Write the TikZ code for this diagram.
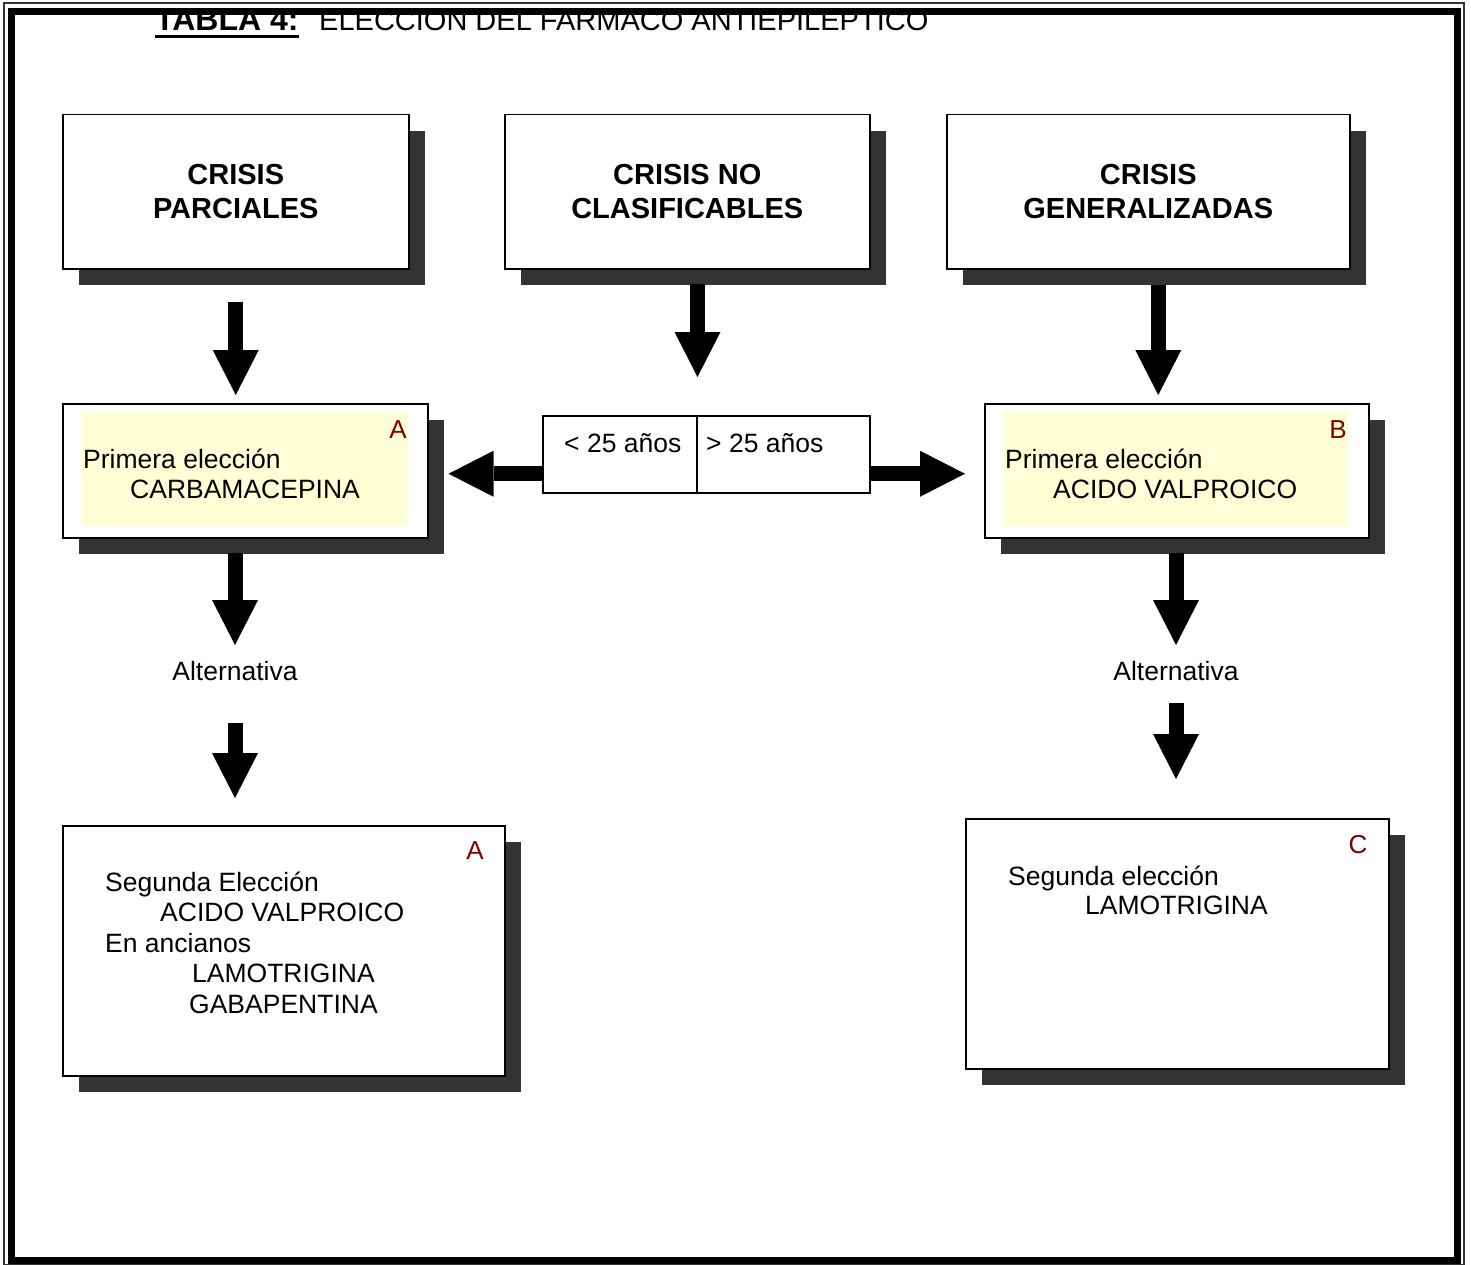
\documentclass[tikz,border=0pt]{standalone}
\usepackage{fontspec}
\setmainfont{Liberation Sans}
\usepackage{tikz}
\usetikzlibrary{shadows}
\usetikzlibrary{arrows.meta}
\definecolor{sombra}{RGB}{51,51,51}
\definecolor{amarillo}{RGB}{255,255,214}
\definecolor{rojo}{RGB}{128,0,0}

\begin{document}
\begin{tikzpicture}[x=1pt, y=-1pt,
 caja/.style={draw, line width=1.5pt, fill=white, inner sep=0pt, anchor=north west,
   drop shadow={shadow xshift=16pt, shadow yshift=-16pt, fill=sombra, opacity=1}},
 edad/.style={draw, line width=1.5pt, fill=white, inner sep=0pt, anchor=north west},
 fondo/.style={fill=amarillo, inner sep=0pt, anchor=north west},
 titulo/.style={font=\fontsize{29}{34}\selectfont\bfseries, align=center},
 texto/.style={font=\fontsize{26.5}{30.5}\selectfont, inner sep=0pt, anchor=base west},
 letra/.style={font=\fontsize{26}{30}\selectfont, text=rojo, inner sep=0pt, anchor=base},
 flecha/.style={line width=15pt, -{Triangle[length=45pt, width=46pt, line width=0pt]}}]

\useasboundingbox (0,0) rectangle (1471,1265);

% titulo (el marco lo tapa por arriba)
\node[font=\fontsize{32}{36}\selectfont\bfseries, inner sep=0pt, anchor=base west] (tabla) at (155,31) {TABLA 4:};
\node[font=\fontsize{29}{34}\selectfont, inner sep=0pt, anchor=base west] (nombre) at (319,31) {ELECCION DEL FARMACO ANTIEPILEPTICO};
\draw[line width=3pt] ([yshift=-6pt]tabla.base west) -- ([yshift=-6pt]tabla.base east);

% marco
\draw[line width=1.5pt, black!80] (4,3) rectangle (1464,1264.5);
\draw[line width=7pt] (11.5,12) rectangle (1457.5,1260);

% tipos de crisis
\node[caja, titulo, minimum width=346pt, minimum height=154pt] (parc) at (62,114) {CRISIS\\PARCIALES};
\node[caja, titulo, minimum width=365pt, minimum height=154pt] (noclas) at (504,114) {CRISIS NO\\CLASIFICABLES};
\node[caja, titulo, minimum width=403pt, minimum height=154pt] (gen) at (946,114) {CRISIS\\GENERALIZADAS};

% primera eleccion
\node[caja, minimum width=365pt, minimum height=134pt] (prim1) at (62,403) {};
\node[fondo, minimum width=325pt, minimum height=114pt] (ama1) at (82,412) {};
\node[texto] (pe1) at (83,468) {Primera elección};
\node[texto] (carb) at (130,498) {CARBAMACEPINA};
\node[letra] (la1) at (398,438) {A};

\node[caja, minimum width=384pt, minimum height=134pt] (prim2) at (984,403) {};
\node[fondo, minimum width=344pt, minimum height=114pt] (ama2) at (1004,412) {};
\node[texto] (pe2) at (1005,468) {Primera elección};
\node[texto] (valp) at (1053,498) {ACIDO VALPROICO};
\node[letra] (lb) at (1338,438) {B};

% edad
\node[edad, minimum width=154pt, minimum height=77pt] (agemen) at (542,415) {};
\node[edad, minimum width=173pt, minimum height=77pt] (agemay) at (696,415) {};
\node[texto] (tmen) at (564,452) {< 25 años};
\node[texto] (tmay) at (706,452) {> 25 años};

\node[texto, anchor=base] (alt1) at (235,680) {Alternativa};
\node[texto, anchor=base] (alt2) at (1176,680) {Alternativa};

% segunda eleccion
\node[caja, minimum width=442pt, minimum height=250pt] (seg1) at (62,825) {};
\node[texto] (se1) at (105,891) {Segunda Elección};
\node[texto] (valp2) at (160,921) {ACIDO VALPROICO};
\node[texto] (anc) at (105,952) {En ancianos};
\node[texto] (lamo1) at (192,982) {LAMOTRIGINA};
\node[texto] (gaba) at (189,1013) {GABAPENTINA};
\node[letra] (la2) at (475,859) {A};

\node[caja, minimum width=423pt, minimum height=250pt] (seg2) at (965,818) {};
\node[texto] (se2) at (1008,885) {Segunda elección};
\node[texto] (lamo2) at (1085,914) {LAMOTRIGINA};
\node[letra] (lc) at (1358,853) {C};

% flechas
\draw[flecha, shorten <=32pt, shorten >=8pt] (parc.south) -- (parc.south |- prim1.north);
\draw[flecha, shorten <=14pt, shorten >=38pt] (noclas.south -| agemen.north east) -- (agemen.north east);
\draw[flecha, shorten <=15pt, shorten >=8pt] ([xshift=10pt]gen.south) -- ([xshift=10pt]gen.south |- prim2.north);

\draw[flecha, shorten >=20pt] ([yshift=-19.5pt]agemen.west) -- ([yshift=-19.5pt]agemen.west -| prim1.east);
\draw[flecha, shorten >=19pt] ([yshift=-19.5pt]agemay.east) -- ([yshift=-19.5pt]agemay.east -| prim2.west);

\draw[flecha, shorten <=14pt, shorten >=35pt] (alt1 |- prim1.south) -- (alt1.base);
\draw[flecha, shorten <=43pt, shorten >=27pt] (alt1.base) -- (alt1.base |- seg1.north);
\draw[flecha, shorten <=14pt, shorten >=35pt] (alt2 |- prim2.south) -- (alt2.base);
\draw[flecha, shorten <=23pt, shorten >=39pt] (alt2.base) -- (alt2.base |- seg2.north);

\end{tikzpicture}
\end{document}
